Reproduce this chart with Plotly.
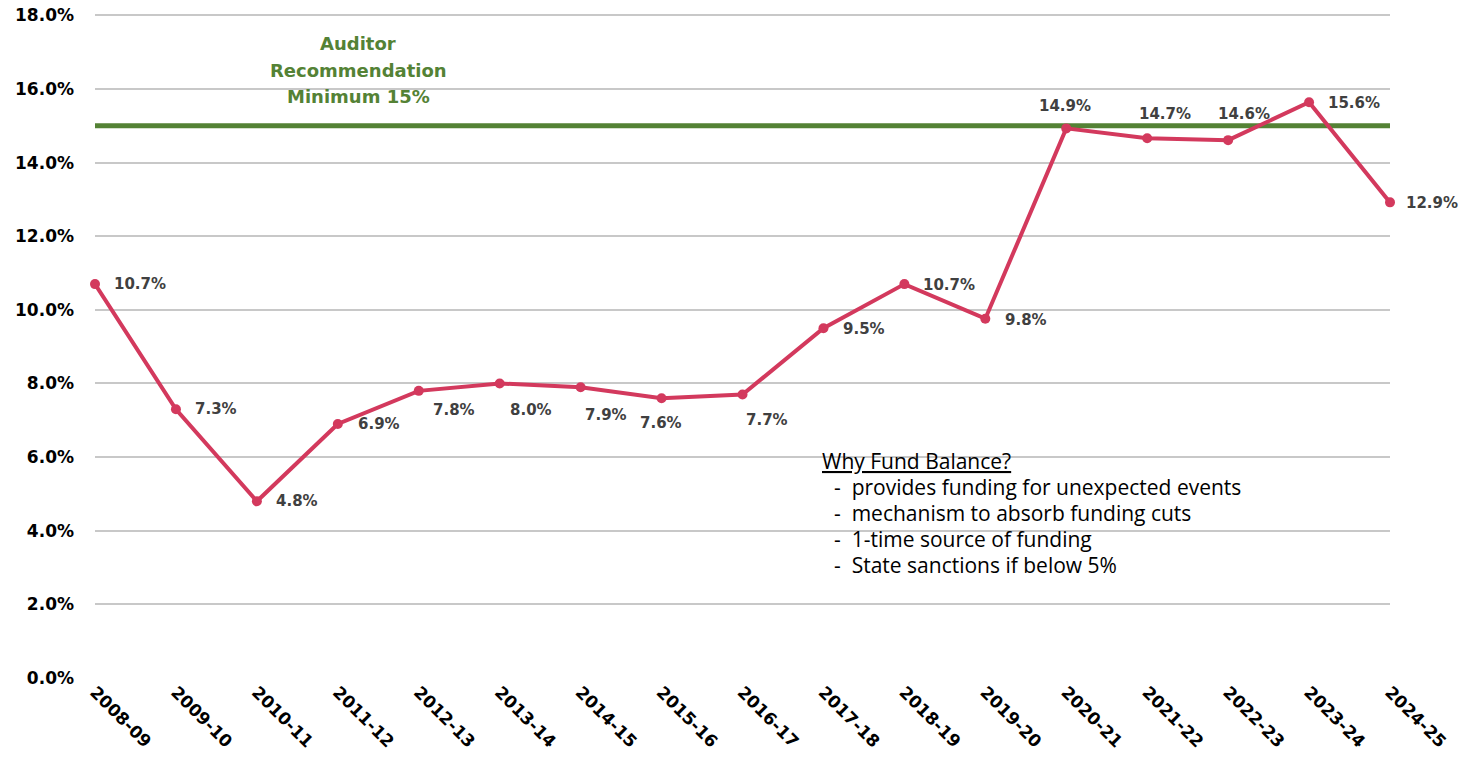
import plotly.graph_objects as go

years = ["2008-09", "2009-10", "2010-11", "2011-12", "2012-13", "2013-14", "2014-15",
         "2015-16", "2016-17", "2017-18", "2018-19", "2019-20", "2020-21", "2021-22",
         "2022-23", "2023-24", "2024-25"]
fund_balance_pct = [10.7, 7.3, 4.8, 6.9, 7.8, 8.0, 7.9, 7.6, 7.7, 9.5, 10.7, 9.76, 14.93,
                    14.66, 14.61, 15.64, 12.92]
auditor_minimum = 15.0
auditor_lines = ["Auditor", "Recommendation", "Minimum 15%"]
y_ticks = [0, 2, 4, 6, 8, 10, 12, 14, 16, 18]
note_title = "Why Fund Balance?"
note_items = ["provides funding for unexpected events",
              "mechanism to absorb funding cuts",
              "1-time source of funding",
              "State sanctions if below 5%"]

# label offsets in pixels (style, not data): (xanchor, dx, dy)
label_style = [("left", 17, 0), ("left", 17, 0), ("left", 17, 0), ("left", 18, 0),
               ("left", 12, -19), ("left", 8, -27), ("left", 2, -28), ("center", -1, -25),
               ("left", 1, -25), ("left", 18, -1), ("left", 17, -1), ("left", 18, -1),
               ("center", -1, 22), ("center", 18, 24), ("center", 16, 26),
               ("left", 17, -1), ("left", 14, -1)]

xs = list(range(len(years)))
RED = "#D3395D"
GREEN = "#548235"

fig = go.Figure()
fig.add_trace(go.Scatter(
    x=xs, y=fund_balance_pct, mode="lines+markers",
    line=dict(color=RED, width=4),
    marker=dict(color=RED, size=10),
    cliponaxis=False, showlegend=False, hoverinfo="skip"))

fig.add_shape(type="line", xref="x", yref="y", x0=0, x1=len(years) - 1,
              y0=auditor_minimum, y1=auditor_minimum,
              line=dict(color=GREEN, width=5), layer="below")

for i, (xa, dx, dy) in enumerate(label_style):
    fig.add_annotation(x=xs[i], y=fund_balance_pct[i], xref="x", yref="y",
                       text=f"{fund_balance_pct[i]:.1f}%", showarrow=False,
                       xanchor=xa, yanchor="middle", xshift=dx, yshift=dy,
                       font=dict(family="DejaVu Sans", size=15, color="#404040",
                                 weight="bold"))

for i, line in enumerate(auditor_lines):
    fig.add_annotation(x=3.25, y=16.51, xref="x", yref="y", text=line,
                       showarrow=False, yshift=26.5 * (1 - i),
                       font=dict(family="DejaVu Sans", size=18, color=GREEN, weight="bold"))

note_lines = ["<u>" + note_title + "</u>"] + ["-  " + s for s in note_items]
for i, line in enumerate(note_lines):
    fig.add_annotation(x=8.957, y=5.89, xref="x", yref="y", text=line,
                       xanchor="left", yanchor="middle", showarrow=False,
                       xshift=0 if i == 0 else 12, yshift=-26 * i,
                       font=dict(family="Open Sans", size=21, color="#000000"))

fig.update_layout(
    width=1461, height=758, plot_bgcolor="white", paper_bgcolor="white",
    margin=dict(l=95, r=71, t=8, b=80, autoexpand=False),
    xaxis=dict(range=[0, len(years) - 1], tickmode="array", tickvals=xs, ticktext=years,
               tickangle=45, showgrid=False, zeroline=False, showline=False,
               automargin=False, ticklabeloverflow="allow",
               tickfont=dict(family="DejaVu Sans", size=17, color="#000000", weight="bold")),
    yaxis=dict(range=[0, 18.2], tickmode="array", tickvals=y_ticks,
               ticktext=[f"{v:.1f}%" for v in y_ticks],
               showgrid=True, gridcolor="#C8C8C8", gridwidth=2, zeroline=False,
               ticklabelstandoff=20, automargin=False, ticklabeloverflow="allow",
               tickfont=dict(family="DejaVu Sans", size=17, color="#000000", weight="bold")),
)

fig.write_html("out.html", config={"displayModeBar": False},
               post_script="document.body.style.margin='0px';"
                           "document.body.style.overflow='hidden';")
